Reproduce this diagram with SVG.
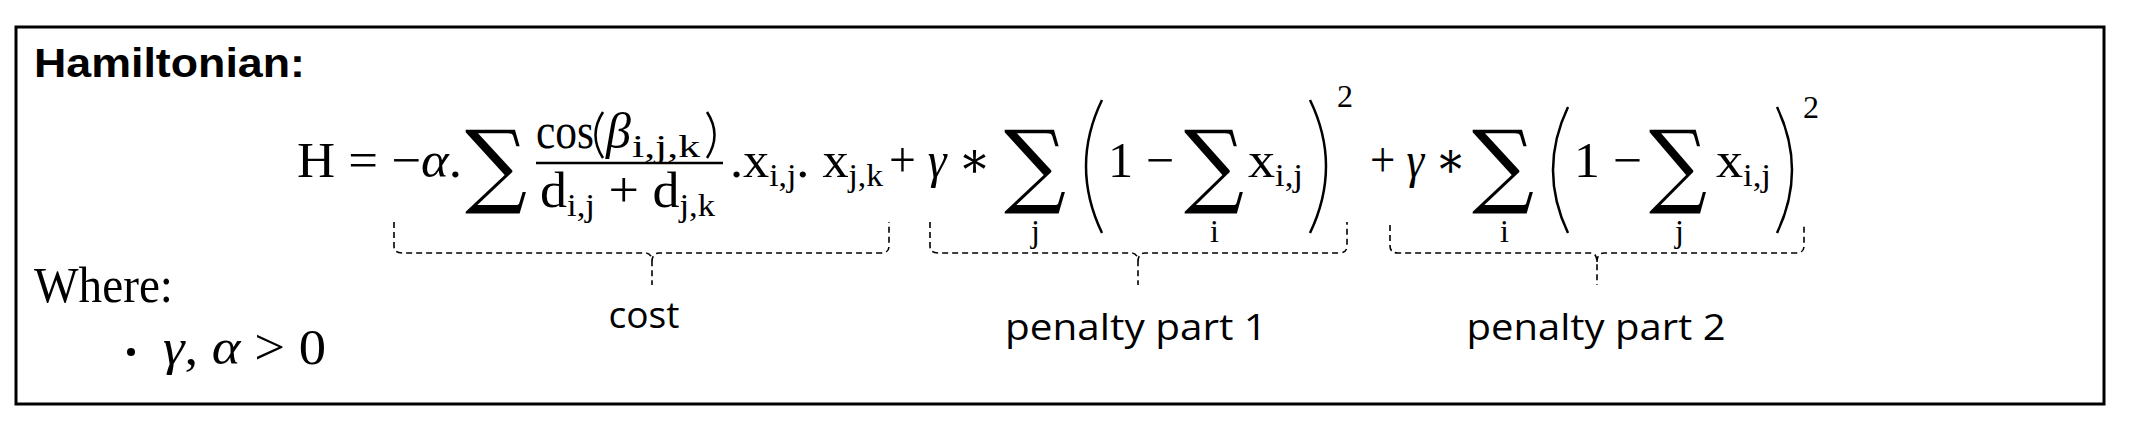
<svg xmlns="http://www.w3.org/2000/svg" width="2130" height="426" viewBox="0 0 2130 426">
<style>
.m{font-family:"Liberation Serif","DejaVu Serif",serif;font-size:50px;fill:#000}
.i{font-style:italic}
.s{font-size:32px}
.sum{font-family:"DejaVu Serif",serif;font-size:92px}
.lbl{font-family:"Open Sans","Liberation Sans",sans-serif;font-size:36px;fill:#000}
.br{fill:none;stroke:#000;stroke-width:1.6;stroke-dasharray:6,4}
.pa{fill:none;stroke:#000;stroke-width:2.5}
</style>
<rect x="16" y="27" width="2088" height="377" fill="#fff" stroke="#000" stroke-width="3"/>
<g id="title"><text x="34" y="77" font-family="Liberation Sans,sans-serif" font-weight="bold" font-size="40" textLength="271" lengthAdjust="spacingAndGlyphs">Hamiltonian:</text></g>
<g id="equation">
<text class="m" x="297" y="177" textLength="165" lengthAdjust="spacingAndGlyphs">H = −<tspan class="i">α</tspan>.</text>
<text class="m sum" x="465" y="196" textLength="62" lengthAdjust="spacingAndGlyphs">∑</text>
<text class="m" x="536" y="148" textLength="58" lengthAdjust="spacingAndGlyphs">cos</text>
<path class="pa" d="M603,112 Q588,135 603,158" stroke-width="2"/>
<text class="m i" x="606" y="148">β</text>
<text class="m s" x="632" y="157" textLength="68" lengthAdjust="spacingAndGlyphs">i,j,k</text>
<path class="pa" d="M707,112 Q722,135 707,158" stroke-width="2"/>
<line x1="536" y1="163" x2="723" y2="163" stroke="#000" stroke-width="2.5"/>
<text class="m" x="540" y="207" textLength="175" lengthAdjust="spacingAndGlyphs">d<tspan class="s" dy="9">i,j</tspan><tspan dy="-9"> + d</tspan><tspan class="s" dy="9">j,k</tspan></text>
<text class="m" x="730" y="177" textLength="153" lengthAdjust="spacingAndGlyphs">.x<tspan class="s" dy="9">i,j</tspan><tspan dy="-9">. x</tspan><tspan class="s" dy="9">j,k</tspan></text>
<text class="m" x="889" y="177" textLength="102" lengthAdjust="spacingAndGlyphs">+ <tspan class="i">γ</tspan> ∗</text>
<text class="m sum" x="1004" y="196" textLength="62" lengthAdjust="spacingAndGlyphs">∑</text>
<text class="m s" x="1031" y="242">j</text>
<path class="pa" d="M1102,100 Q1070,166 1102,233"/>
<text class="m" x="1108" y="177" textLength="66" lengthAdjust="spacingAndGlyphs">1 −</text>
<text class="m sum" x="1184" y="196" textLength="60" lengthAdjust="spacingAndGlyphs">∑</text>
<text class="m s" x="1210" y="242">i</text>
<text class="m" x="1248" y="177" textLength="55" lengthAdjust="spacingAndGlyphs">x<tspan class="s" dy="9">i,j</tspan></text>
<path class="pa" d="M1310,100 Q1342,166 1310,233"/>
<text class="m s" x="1337" y="107">2</text>
<text class="m" x="1370" y="177" textLength="96" lengthAdjust="spacingAndGlyphs">+ <tspan class="i">γ</tspan> ∗</text>
<text class="m sum" x="1472" y="196" textLength="62" lengthAdjust="spacingAndGlyphs">∑</text>
<text class="m s" x="1500" y="242">i</text>
<path class="pa" d="M1568,107 Q1538,170 1568,233"/>
<text class="m" x="1574" y="177" textLength="68" lengthAdjust="spacingAndGlyphs">1 −</text>
<text class="m sum" x="1649" y="196" textLength="58" lengthAdjust="spacingAndGlyphs">∑</text>
<text class="m s" x="1675" y="242">j</text>
<text class="m" x="1716" y="177" textLength="55" lengthAdjust="spacingAndGlyphs">x<tspan class="s" dy="9">i,j</tspan></text>
<path class="pa" d="M1777,107 Q1807,170 1777,233"/>
<text class="m s" x="1803" y="118">2</text>
</g>
<g id="connectors">
<path class="br" d="M394,222 V246 Q394,253 402,253 H645 Q652,253 652,262 V285 M652,262 Q652,253 659,253 H881 Q889,253 889,246 V222"/>
<path class="br" d="M930,222 V246 Q930,253 938,253 H1131 Q1138,253 1138,262 V285 M1138,262 Q1138,253 1145,253 H1339 Q1347,253 1347,246 V222"/>
<path class="br" d="M1390,225 V246 Q1390,253 1398,253 H1590 Q1597,253 1597,262 V285 M1597,262 Q1597,253 1604,253 H1796 Q1804,253 1804,246 V225"/>
</g>
<g id="cost"><text class="lbl" x="644" y="328" text-anchor="middle" textLength="71" lengthAdjust="spacingAndGlyphs">cost</text></g>
<g id="penalty1"><text class="lbl" x="1136" y="340" text-anchor="middle" textLength="262" lengthAdjust="spacingAndGlyphs">penalty part 1</text></g>
<g id="penalty2"><text class="lbl" x="1596" y="340" text-anchor="middle" textLength="259" lengthAdjust="spacingAndGlyphs">penalty part 2</text></g>
<g id="where">
<text class="m" x="34" y="302" font-size="46" textLength="139" lengthAdjust="spacingAndGlyphs">Where:</text>
<circle cx="131" cy="352" r="4"/>
<text class="m" x="163" y="364" textLength="163" lengthAdjust="spacingAndGlyphs"><tspan class="i">γ</tspan>, <tspan class="i">α</tspan> &gt; 0</text>
</g>
</svg>
